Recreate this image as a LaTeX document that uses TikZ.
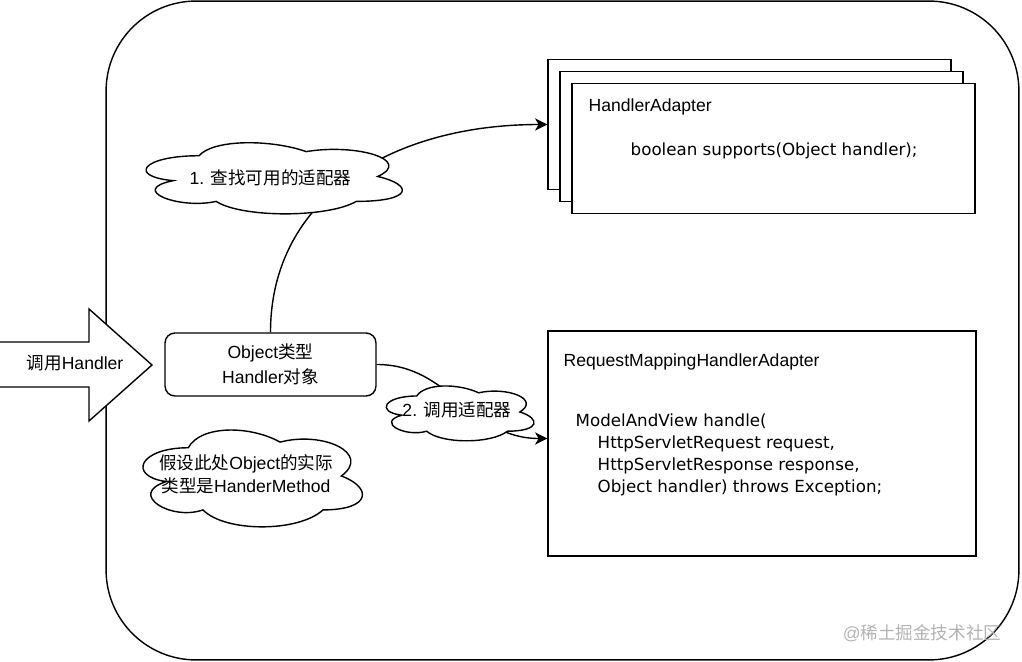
\documentclass[tikz,border=0pt]{standalone}
\usepackage{fontspec}
\setmainfont{Liberation Sans}
\newfontfamily\cjk{Noto Sans CJK SC}
\newfontfamily\codefont{DejaVu Sans}
\usepackage{tikz}
\usetikzlibrary{arrows.meta, positioning, calc}

\begin{document}
\begin{tikzpicture}[x=0.02cm, y=-0.02cm, line width=0.8pt,
      frame/.style={draw, rounded corners=1.8cm, minimum width=18.26cm,
      minimum height=13.18cm}, adapter/.style={draw, fill=white,
      minimum width=8.06cm, minimum height=2.6cm},
      objbox/.style={draw, rounded corners=0.2cm, minimum width=4.22cm,
      minimum height=1.26cm, align=center},
      note/.pic={\draw[fill=white] (-0.25,-0.25) .. controls (-0.45,-0.25)
      and (-0.5,0) .. (-0.34,0.05) .. controls (-0.5,0.16) and (-0.32,0.4)
      .. (-0.19,0.3) .. controls (-0.1,0.5) and (0.2,0.5) .. (0.3,0.3) ..
      controls (0.5,0.3) and (0.5,0.1) .. (0.375,0) .. controls (0.5,-0.2)
      and (0.3,-0.4) .. (0.125,-0.3) .. controls (0,-0.45) and (-0.2,-0.45)
      .. (-0.25,-0.25) -- cycle;},
      link/.style={-{Stealth[length=7pt, width=7pt, inset=2pt]}},
      txt/.style={font=\fontsize{10pt}{12pt}\selectfont, inner sep=0pt},
      code/.style={font=\codefont\fontsize{9.5pt}{12.5pt}\selectfont,
      inner sep=0pt, align=left} ]
    \useasboundingbox (0,0) rectangle (1022,662);

    % Outer frame
    \node[frame] (frame) at (562.5,330.5) {};

    % Call arrow on the left
    \draw[fill=white] (-5,342) -- (89,342) -- (89,309) -- (152,365) --
    (89,421) -- (89,387) -- (-5,387) -- cycle;
    \node[txt] (call) at (75,363) {{\cjk 调用}Handler};

    % Stacked HandlerAdapter boxes
    \node[adapter] (ha3) at (749.5,124.5) {}; \node[adapter] (ha2) at
    (761.5,136.5) {}; \node[adapter] (ha1) at (773.5,148.5) {};
    \node[txt, anchor=west] (hatitle) at (588,107) {HandlerAdapter};
    \node[code, anchor=west] (supports) at (630,151) {boolean
    supports(Object handler);};

    % RequestMappingHandlerAdapter box
    \node[draw, minimum width=8.56cm, minimum height=4.5cm] (rmha) at
    (762,443.5) {};
    \node[txt, anchor=west] (rmtitle) at (563,362)
    {RequestMappingHandlerAdapter};
    \node[code, anchor=north west] (handle) at (575,413) {ModelAndView
    handle(\\ \hspace*{0.44cm}HttpServletRequest request,\\
    \hspace*{0.44cm}HttpServletResponse response,\\
    \hspace*{0.44cm}Object handler) throws Exception;};

    % Handler object
    \node[objbox, font=\fontsize{10pt}{14pt}\selectfont] (obj) at
    (270.5,364.5) {Object{\cjk 类型}\\Handler{\cjk 对象}};

    % Connectors
    \draw[link] (obj.north) .. controls +(0,-133) and +(-158,0) ..
    (ha3.west);
    \draw[link] (obj.east) .. controls +(74,0) and +(-78,0) ..
    ($(rmha.west)+(0,-5)$);

    % Clouds on the connectors
    \pic[xscale=286, yscale=83] at (270.5,176.5) {note};
    \node[txt] (find) at (270.5,178) {1. {\cjk 查找可用的适配器}};
    \pic[xscale=165, yscale=64] at (458,412) {note};
    \node[txt] (use) at (457,410) {2. {\cjk 调用适配器}};
    \pic[xscale=245, yscale=113] at (249.5,476) {note};
    \node[txt, align=center, font=\fontsize{10pt}{13pt}\selectfont]
    (assume) at (246,474) {{\cjk 假设此处}Object{\cjk 的实际}\\{\cjk
    类型是}HanderMethod};

    % Watermark
    \node[txt, text=black!30] (mark) at (922,633) {@{\cjk
    稀土掘金技术社区}};
\end{tikzpicture}
\end{document}
